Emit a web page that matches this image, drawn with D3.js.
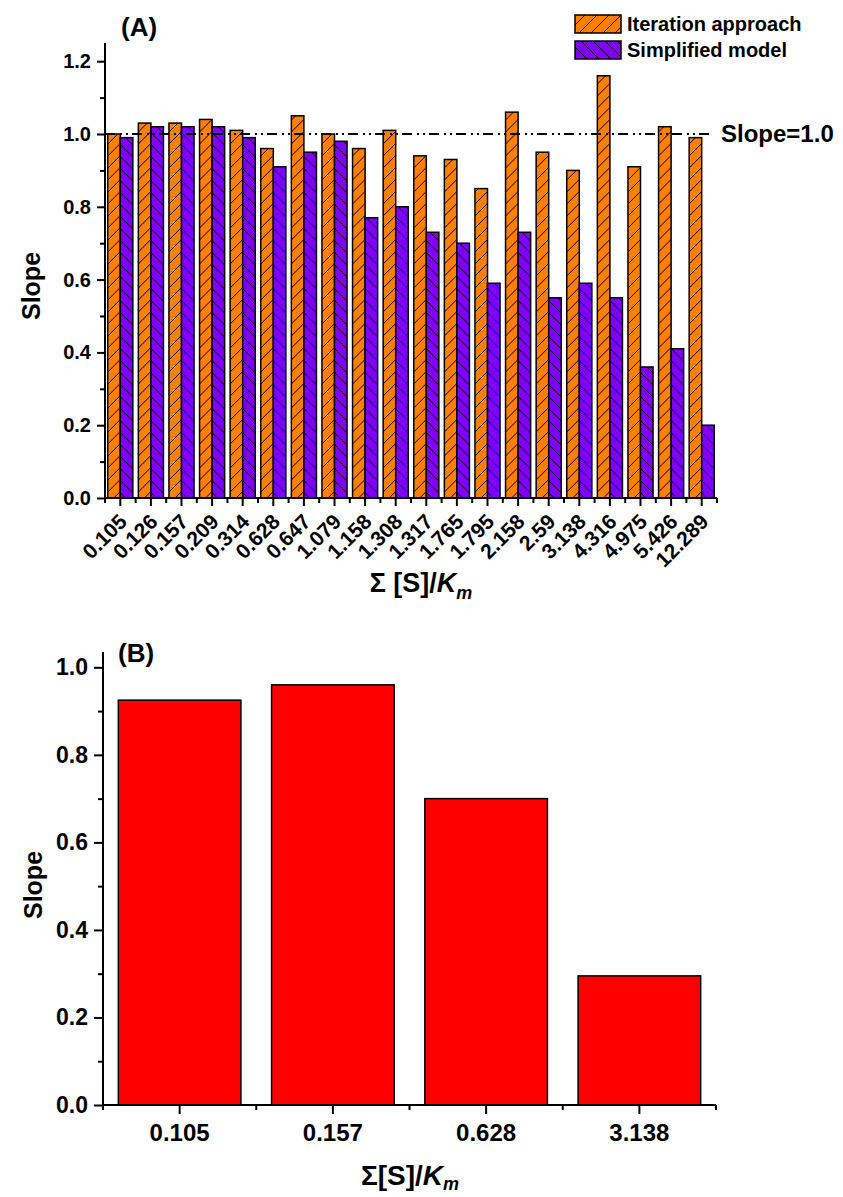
<!DOCTYPE html>
<html>
<head>
<meta charset="utf-8">
<script src="https://cdn.jsdelivr.net/npm/d3@7"></script>
<style>
  html, body { margin: 0; padding: 0; background: #fff; }
  svg { display: block; }
  text { font-family: "Liberation Sans", Arial, sans-serif; font-weight: bold; fill: #000; }
</style>
</head>
<body>
<svg id="chart" width="843" height="1197"></svg>
<script>
// ---------- Data ----------
const categoriesA = ["0.105","0.126","0.157","0.209","0.314","0.628","0.647","1.079","1.158","1.308","1.317","1.765","1.795","2.158","2.59","3.138","4.316","4.975","5.426","12.289"];
const iterationValues = [1.00,1.03,1.03,1.04,1.01,0.96,1.05,1.00,0.96,1.01,0.94,0.93,0.85,1.06,0.95,0.90,1.16,0.91,1.02,0.99];
const simplifiedValues = [0.99,1.02,1.02,1.02,0.99,0.91,0.95,0.98,0.77,0.80,0.73,0.70,0.59,0.73,0.55,0.59,0.55,0.36,0.41,0.20];
const seriesNames = ["Iteration approach","Simplified model"];
const yTicksA = [0,0.2,0.4,0.6,0.8,1.0,1.2];
const yMinorA = [0.1,0.3,0.5,0.7,0.9,1.1];
const referenceSlope = 1.0;

const categoriesB = ["0.105","0.157","0.628","3.138"];
const valuesB = [0.925,0.96,0.70,0.295];
const yTicksB = [0,0.2,0.4,0.6,0.8,1.0];
const yMinorB = [0.1,0.3,0.5,0.7,0.9];

// ---------- Setup ----------
const svg = d3.select("#chart");
const defs = svg.append("defs");
function hatch(id, color, dir) {
  const s = 12;
  const p = defs.append("pattern").attr("id", id).attr("patternUnits", "userSpaceOnUse")
    .attr("width", s).attr("height", s);
  p.append("rect").attr("width", s).attr("height", s).attr("fill", color);
  const path = dir === "/" 
    ? `M0,${s} L${s},0 M${-s/2},${s/2} L${s/2},${-s/2} M${s/2},${s*1.5} L${s*1.5},${s/2}`
    : `M0,0 L${s},${s} M${-s/2},${s/2} L${s/2},${s*1.5} M${s/2},${-s/2} L${s*1.5},${s/2}`;
  p.append("path").attr("d", path).attr("stroke", "#000").attr("stroke-width", 1);
}
hatch("hatchOrange", "#FF8000", "/");
hatch("hatchPurple", "#8000FF", "\\");
const fills = ["url(#hatchOrange)", "url(#hatchPurple)"];

function styleAxis(g, w) {
  g.selectAll("path.domain").attr("stroke", "#000").attr("stroke-width", w);
  g.selectAll(".tick line").attr("stroke", "#000").attr("stroke-width", w);
}

// ---------- Panel A ----------
const A = { left: 105, right: 717, top: 43, bottom: 498 };
const xA = d3.scaleBand().domain(categoriesA).range([A.left, A.right]).paddingInner(0.18).paddingOuter(0.09);
const xSubA = d3.scaleBand().domain([0,1]).range([0, xA.bandwidth()]);
const yA = d3.scaleLinear().domain([0, 1.25]).range([A.bottom, A.top]);

const gA = svg.append("g");
const dataA = categoriesA.map((c, i) => ({ c, vals: [iterationValues[i], simplifiedValues[i]] }));
gA.selectAll("g.grp").data(dataA).join("g").attr("class", "grp")
  .attr("transform", d => `translate(${xA(d.c)},0)`)
  .selectAll("rect").data(d => d.vals.map((v, k) => ({ v, k }))).join("rect")
  .attr("x", d => xSubA(d.k)).attr("width", xSubA.bandwidth())
  .attr("y", d => yA(d.v)).attr("height", d => yA(0) - yA(d.v))
  .attr("fill", d => fills[d.k]).attr("stroke", "#000").attr("stroke-width", 1.5);

// reference line
gA.append("line").attr("x1", A.left).attr("x2", 714)
  .attr("y1", yA(referenceSlope)).attr("y2", yA(referenceSlope))
  .attr("stroke", "#000").attr("stroke-width", 2).attr("stroke-dasharray", "10,5,2,4,2,4");
gA.append("text").attr("x", 721).attr("y", yA(referenceSlope) + 8).attr("font-size", 24).text("Slope=1.0");

// y axis A
const yAxA = gA.append("g").attr("transform", `translate(${A.left},0)`)
  .call(d3.axisLeft(yA).tickValues(yTicksA).tickSize(8).tickPadding(6).tickFormat(d3.format(".1f")));
yAxA.select("path.domain").attr("d", `M0,${A.bottom}V${A.top}`);
yAxA.selectAll(".tick text").attr("font-size", 20).attr("font-family", "Liberation Sans, Arial").attr("font-weight", "bold");
styleAxis(yAxA, 2);
const yMinA = gA.append("g").attr("transform", `translate(${A.left},0)`)
  .call(d3.axisLeft(yA).tickValues(yMinorA).tickSize(5).tickFormat(""));
yMinA.select("path.domain").remove();
styleAxis(yMinA, 2);

// x axis A
const xAxA = gA.append("g").attr("transform", `translate(0,${A.bottom})`)
  .call(d3.axisBottom(xA).tickSize(8).tickFormat(""));
xAxA.select("path.domain").attr("d", `M${A.left},0H${A.right}`);
styleAxis(xAxA, 2);
const stepA = xA.step();
const boundsA = d3.range(categoriesA.length + 1).map(i => A.left + i * stepA);
gA.append("g").selectAll("line").data(boundsA).join("line")
  .attr("x1", d => d).attr("x2", d => d).attr("y1", A.bottom).attr("y2", A.bottom + 5)
  .attr("stroke", "#000").attr("stroke-width", 2);
gA.append("g").selectAll("text").data(categoriesA).join("text")
  .attr("transform", d => `translate(${xA(d) + xA.bandwidth()/2 + 8},${A.bottom + 25}) rotate(-45)`)
  .attr("text-anchor", "end").attr("font-size", 21).text(d => d);

// labels A
gA.append("text").attr("x", 121).attr("y", 36).attr("font-size", 26).text("(A)");
gA.append("text").attr("transform", "translate(40,286) rotate(-90)").attr("text-anchor", "middle")
  .attr("font-size", 25).text("Slope");
const tA = gA.append("text").attr("x", 421).attr("y", 592).attr("text-anchor", "middle").attr("font-size", 27);
tA.append("tspan").text("Σ [S]/");
tA.append("tspan").attr("font-style", "italic").text("K");
tA.append("tspan").attr("font-style", "italic").attr("font-size", 18).attr("dy", 7).text("m");

// legend A
seriesNames.forEach((name, k) => {
  const ly = 15 + k * 26;
  gA.append("rect").attr("x", 575).attr("y", ly).attr("width", 46).attr("height", 18)
    .attr("fill", fills[k]).attr("stroke", "#000").attr("stroke-width", 1.5);
  gA.append("text").attr("x", 627).attr("y", ly + 16).attr("font-size", 20).text(name);
});

// ---------- Panel B ----------
const B = { left: 103, right: 716, top: 652, bottom: 1105 };
const xB = d3.scaleBand().domain(categoriesB).range([B.left, B.right]).paddingInner(0.2).paddingOuter(0.1);
const yB = d3.scaleLinear().domain([0, 1.035]).range([B.bottom, B.top]);
const gB = svg.append("g");
gB.selectAll("rect").data(categoriesB.map((c, i) => ({ c, v: valuesB[i] }))).join("rect")
  .attr("x", d => xB(d.c)).attr("width", xB.bandwidth())
  .attr("y", d => yB(d.v)).attr("height", d => yB(0) - yB(d.v))
  .attr("fill", "#FF0000").attr("stroke", "#000").attr("stroke-width", 1.5);

const yAxB = gB.append("g").attr("transform", `translate(${B.left},0)`)
  .call(d3.axisLeft(yB).tickValues(yTicksB).tickSize(9).tickPadding(6).tickFormat(d3.format(".1f")));
yAxB.select("path.domain").attr("d", `M0,${B.bottom}V${B.top}`);
yAxB.selectAll(".tick text").attr("font-size", 23).attr("font-family", "Liberation Sans, Arial").attr("font-weight", "bold");
styleAxis(yAxB, 2);
const yMinB = gB.append("g").attr("transform", `translate(${B.left},0)`)
  .call(d3.axisLeft(yB).tickValues(yMinorB).tickSize(5).tickFormat(""));
yMinB.select("path.domain").remove();
styleAxis(yMinB, 2);

const xAxB = gB.append("g").attr("transform", `translate(0,${B.bottom})`)
  .call(d3.axisBottom(xB).tickSize(9).tickPadding(10));
xAxB.select("path.domain").attr("d", `M${B.left},0H${B.right}`);
xAxB.selectAll(".tick text").attr("font-size", 24).attr("font-family", "Liberation Sans, Arial").attr("font-weight", "bold");
styleAxis(xAxB, 2);
const stepB = xB.step();
const boundsB = d3.range(categoriesB.length + 1).map(i => B.left + i * stepB);
gB.append("g").selectAll("line").data(boundsB).join("line")
  .attr("x1", d => d).attr("x2", d => d).attr("y1", B.bottom).attr("y2", B.bottom + 5)
  .attr("stroke", "#000").attr("stroke-width", 2);

gB.append("text").attr("x", 118).attr("y", 662).attr("font-size", 26).text("(B)");
gB.append("text").attr("transform", "translate(42,885) rotate(-90)").attr("text-anchor", "middle")
  .attr("font-size", 25).text("Slope");
const tB = gB.append("text").attr("x", 410).attr("y", 1185).attr("text-anchor", "middle").attr("font-size", 28);
tB.append("tspan").text("Σ[S]/");
tB.append("tspan").attr("font-style", "italic").text("K");
tB.append("tspan").attr("font-style", "italic").attr("font-size", 18).attr("dy", 5).text("m");
</script>
</body>
</html>
